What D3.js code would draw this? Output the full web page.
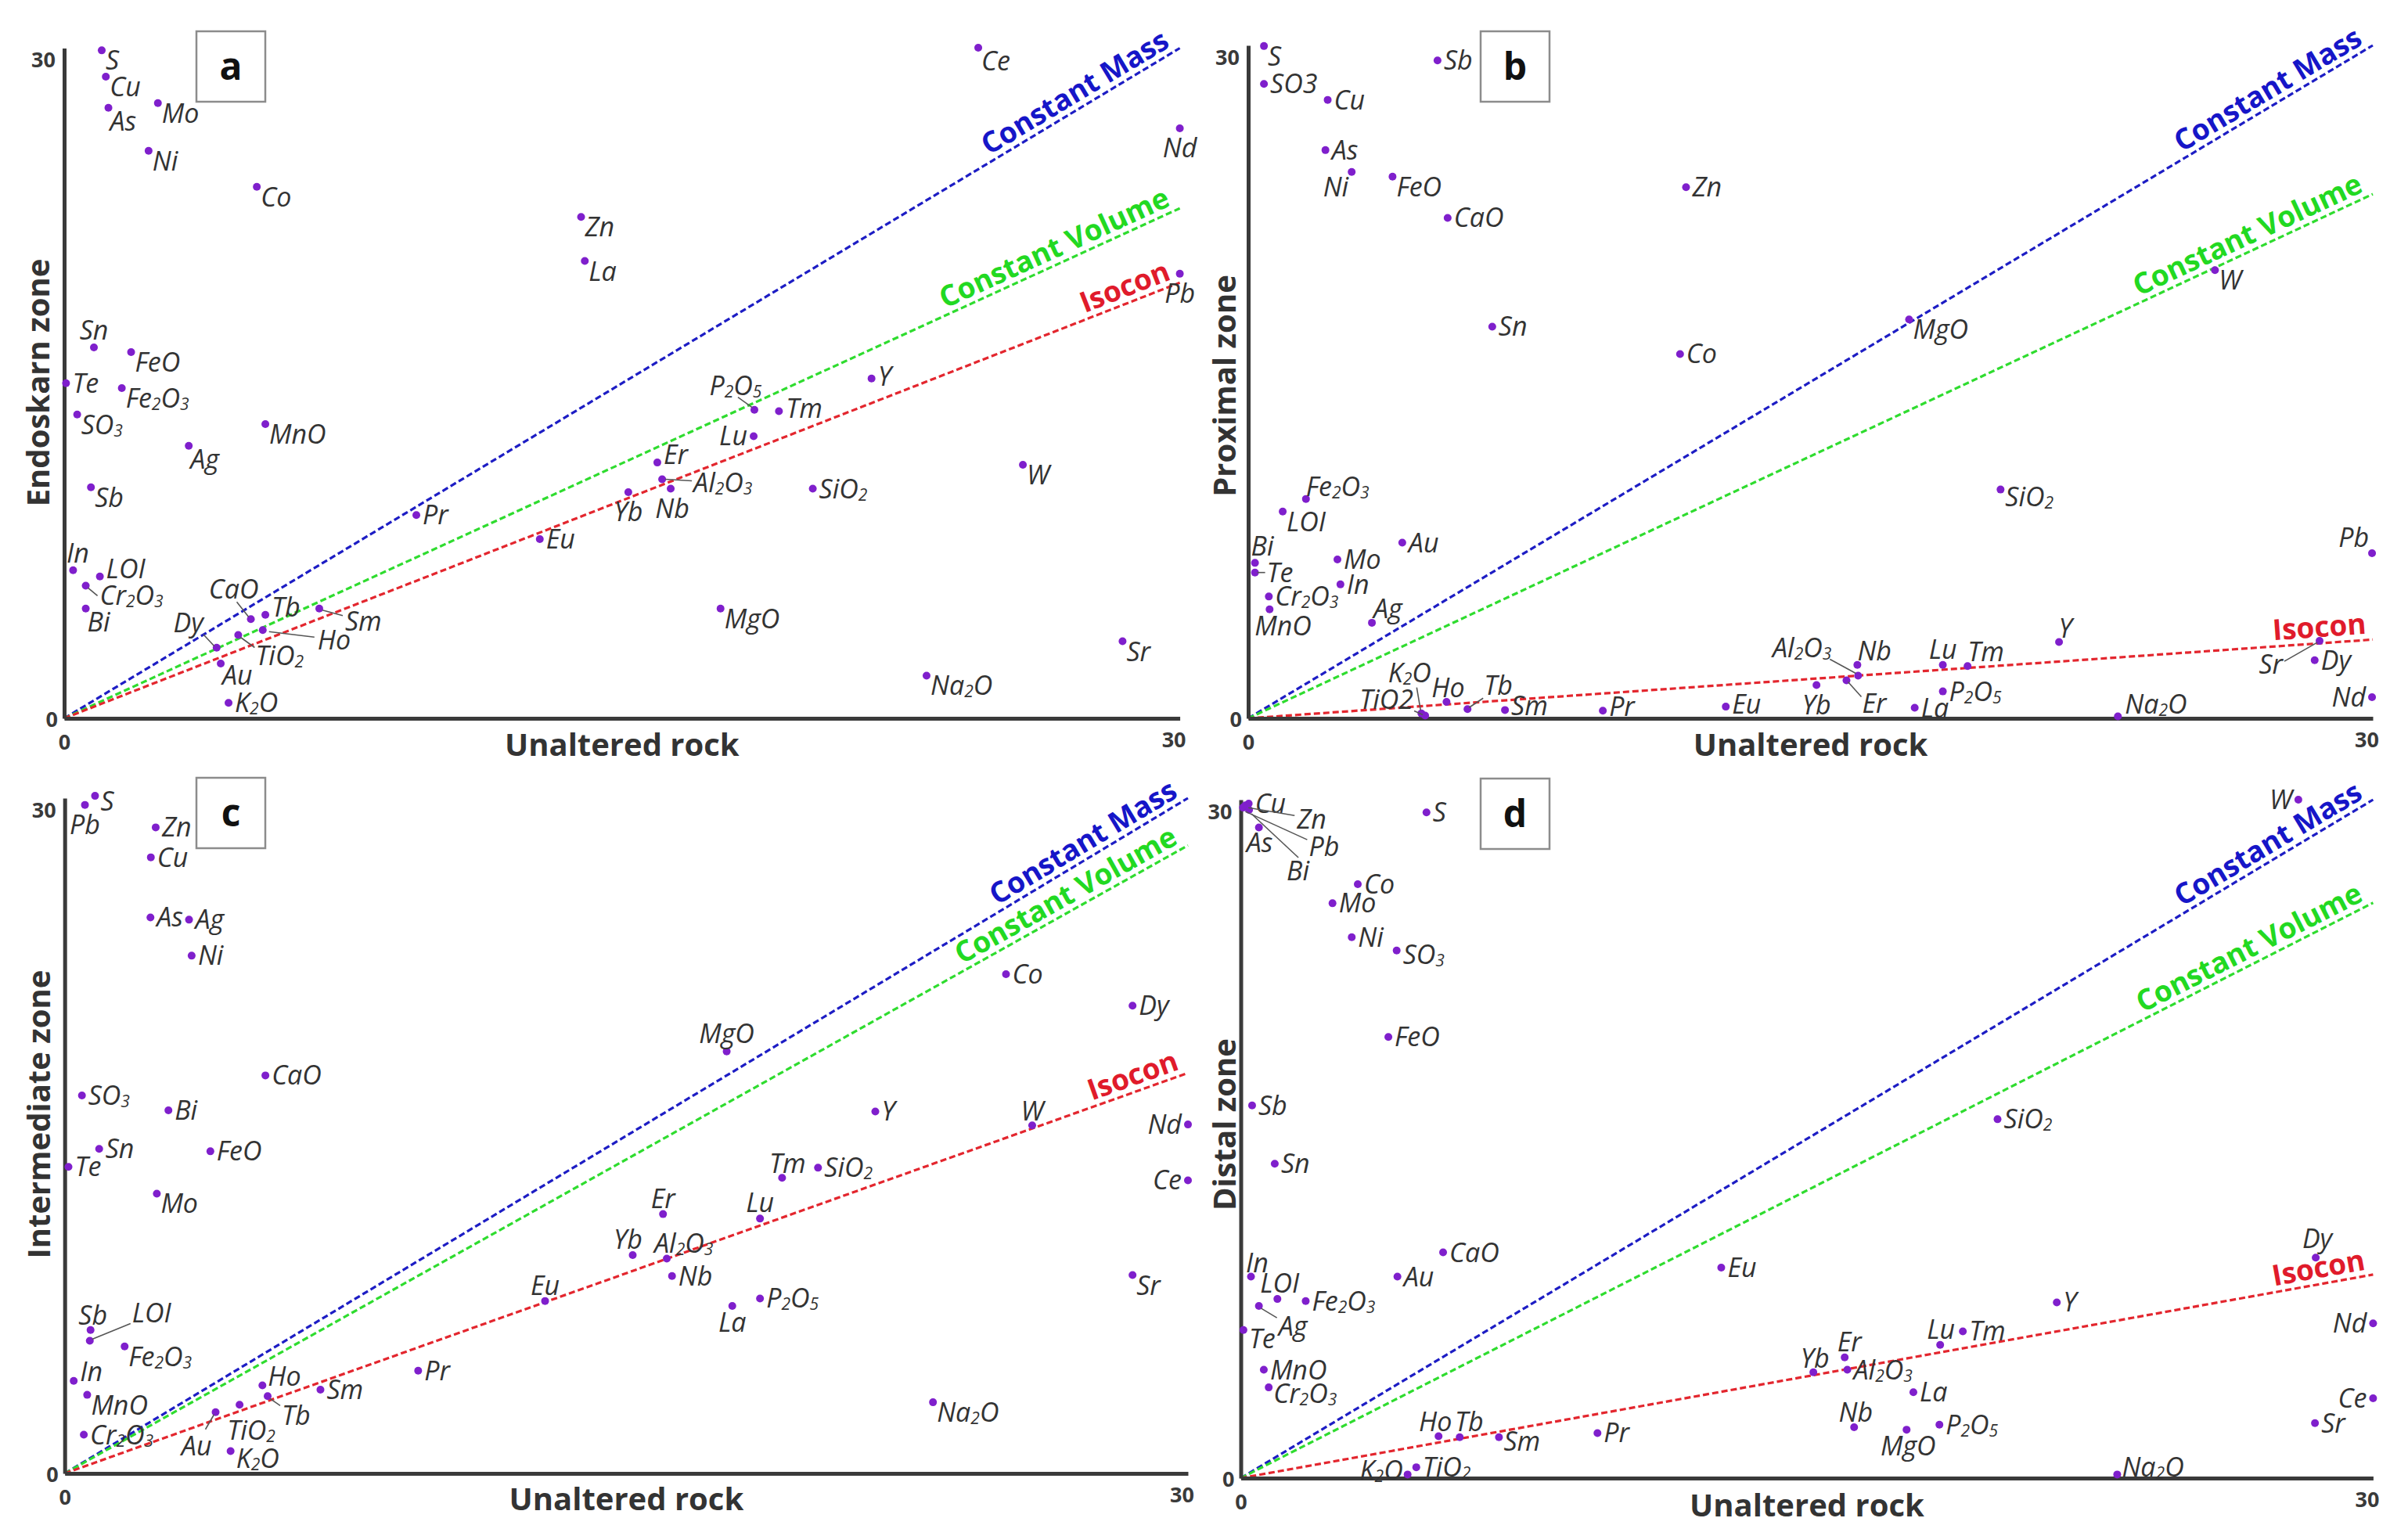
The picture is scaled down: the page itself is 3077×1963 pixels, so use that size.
<!DOCTYPE html>
<html><head><meta charset="utf-8">
<script src="https://cdn.jsdelivr.net/npm/d3@7"></script>
<style>
html,body{margin:0;padding:0;background:#fff;}
svg{display:block;}
</style></head>
<body>
<svg id="chart" width="3077" height="1963"></svg>
<script>
// ---------------- DATA ----------------
const panelIds = ["a", "b", "c", "d"];
const yTitles = ["Endoskarn zone", "Proximal zone", "Intermediate zone", "Distal zone"];
const xTitle = "Unaltered rock";
const tickValues = [0, 30];
const lineNames = ["Constant Mass", "Constant Volume", "Isocon"];
const massSlopes = [1.0, 1.0, 1.0, 1.0];
const volumeSlopes = [0.761, 0.779, 0.93, 0.848];
const isoconSlopes = [0.65, 0.117, 0.593, 0.30];

const pointsA = [
 ["S",1.01,29.9],["Cu",1.12,28.72],["As",1.19,27.33],["Mo",2.52,27.54],["Ni",2.27,25.4],["Co",5.18,23.79],
 ["Zn",13.9,22.44],["La",14.0,20.47],["Ce",24.58,30.02],["Nd",30.0,26.41],["Pb",30.0,19.9],["Sn",0.8,16.6],
 ["FeO",1.8,16.39],["Te",0.05,15.0],["Fe2O3",1.55,14.78],["SO3",0.35,13.6],["MnO",5.41,13.17],["Ag",3.35,12.2],
 ["Sb",0.72,10.34],["Pr",9.47,9.1],["Eu",12.79,8.02],["In",0.24,6.63],["LOI",0.96,6.35],["Cr2O3",0.58,5.94],
 ["Bi",0.58,4.91],["CaO",5.02,4.44],["Tb",5.41,4.63],["Sm",6.86,4.91],["Ho",5.34,3.95],["TiO2",4.68,3.73],
 ["Dy",4.1,3.16],["Au",4.21,2.45],["K2O",4.42,0.69],["Y",21.71,15.21],["P2O5",18.56,13.81],["Tm",19.22,13.75],
 ["Lu",18.54,12.63],["Er",15.95,11.45],["Al2O3",16.08,10.7],["Nb",16.31,10.28],["Yb",15.17,10.12],
 ["SiO2",20.13,10.28],["W",25.78,11.35],["MgO",17.65,4.91],["Sr",28.46,3.45],["Na2O",23.19,1.91]
];
const pointsB = [
 ["S",0.42,29.97],["SO3",0.42,28.28],["Cu",2.12,27.57],["Sb",5.05,29.33],["As",2.06,25.33],["Ni",2.76,24.36],
 ["FeO",3.85,24.15],["CaO",5.32,22.31],["Zn",11.68,23.68],["Sn",6.51,17.46],["Co",11.52,16.24],["Fe2O3",1.54,9.78],
 ["LOI",0.92,9.22],["Au",4.11,7.83],["Bi",0.18,6.93],["Te",0.18,6.5],["Mo",2.38,7.08],["In",2.46,5.97],
 ["Cr2O3",0.55,5.43],["MnO",0.57,4.86],["Ag",3.3,4.26],["K2O",4.62,0.22],["TiO2",4.72,0.12],["Ho",5.29,0.73],
 ["Tb",5.85,0.41],["Sm",6.85,0.37],["Pr",9.46,0.34],["Eu",12.74,0.52],["Yb",15.16,1.48],["Al2O3",16.27,1.9],
 ["Nb",16.25,2.38],["Er",15.96,1.69],["MgO",17.63,17.78],["W",25.79,19.98],["SiO2",20.07,10.2],["Pb",29.98,7.36],
 ["Y",21.63,3.4],["Lu",18.53,2.38],["Tm",19.19,2.33],["P2O5",18.53,1.2],["La",17.78,0.47],["Na2O",23.2,0.09],
 ["Sr",28.58,3.45],["Dy",28.45,2.59],["Nd",29.98,0.94]
];
const pointsC = [
 ["S",0.81,30.1],["Pb",0.54,29.7],["Zn",2.43,28.7],["Cu",2.3,27.37],["As",2.29,24.7],["Ag",3.32,24.6],
 ["Ni",3.39,23.0],["CaO",5.36,17.68],["SO3",0.46,16.79],["Bi",2.77,16.13],["Sn",0.92,14.42],["FeO",3.89,14.31],
 ["Te",0.1,13.62],["Mo",2.46,12.43],["Sb",0.69,6.37],["LOI",0.67,5.89],["Fe2O3",1.6,5.64],["In",0.24,4.11],
 ["MnO",0.6,3.49],["Cr2O3",0.51,1.72],["Ho",5.28,3.91],["Tb",5.42,3.43],["Sm",6.83,3.72],["TiO2",4.67,3.05],
 ["Au",4.03,2.72],["K2O",4.43,0.99],["Pr",9.44,4.56],["Eu",12.83,7.66],["MgO",17.68,18.75],["Co",25.14,22.18],
 ["Dy",28.52,20.78],["Y",21.65,16.08],["W",25.84,15.46],["Nd",30.0,15.5],["Ce",30.0,13.02],["Tm",19.16,13.13],
 ["SiO2",20.12,13.58],["Er",15.98,11.52],["Lu",18.57,11.32],["Yb",15.17,9.7],["Al2O3",16.08,9.54],
 ["Nb",16.22,8.77],["P2O5",18.57,7.77],["La",17.83,7.44],["Sr",28.52,8.81],["Na2O",23.19,3.16]
];
const pointsD = [
 ["Cu",0.21,29.83],["Zn",0.12,29.75],["Pb",0.06,29.65],["Bi",0.22,29.55],["As",0.48,28.77],["S",4.92,29.44],
 ["Co",3.1,26.26],["Mo",2.43,25.42],["Ni",2.94,23.92],["SO3",4.13,23.33],["FeO",3.91,19.51],["Sb",0.3,16.48],
 ["Sn",0.9,13.9],["CaO",5.36,9.98],["In",0.27,8.91],["Au",4.15,8.91],["LOI",0.97,7.92],["Fe2O3",1.72,7.83],
 ["Ag",0.48,7.61],["Te",0.07,6.55],["MnO",0.61,4.79],["Cr2O3",0.74,4.01],["Eu",12.73,9.31],["Ho",5.24,1.85],
 ["Tb",5.8,1.81],["Sm",6.84,1.81],["Pr",9.45,1.99],["TiO2",4.65,0.48],["K2O",4.42,0.16],["Yb",15.17,4.68],
 ["W",28.02,30.0],["SiO2",20.05,15.87],["Dy",28.48,9.75],["Y",21.62,7.77],["Lu",18.53,5.89],["Tm",19.13,6.49],
 ["Er",16.0,5.34],["Al2O3",16.07,4.79],["La",17.82,3.8],["Nb",16.25,2.25],["MgO",17.64,2.14],["P2O5",18.51,2.36],
 ["Nd",30.0,6.84],["Ce",30.0,3.53],["Sr",28.46,2.43],["Na2O",23.22,0.16]
];
const pointSets = [pointsA, pointsB, pointsC, pointsD];

// ---------------- LAYOUT / STYLE ----------------
const layout = [
 {x0:82,   x1:1507.6, y0:918,  y1:61.5, box:[251,40],   yTitle:[63,489]},
 {x0:1595, x1:3032,   y0:918,  y1:58,   box:[1892,40],  yTitle:[1579,493]},
 {x0:82.7, x1:1518,   y0:1883, y1:1020, box:[251,994],  yTitle:[64,1424]},
 {x0:1585.5,x1:3032.4,y0:1889, y1:1022, box:[1892,995], yTitle:[1579,1437]}
];
const xTitleBase = [966, 966, 1930, 1938];
const lineColors = ["#1d1dc4", "#2fdc2f", "#e3262e"];
const lineTextColors = ["#1616c8", "#22d922", "#e01b2b"];
const pointColor = "#7f1fcc";
const textColor = "#333";
const plainDigitLabels = [[], ["SO3", "TiO2"], [], []];

// label placements (pixel offsets relative to point)
const codes = {
 r:[8,12,"start"], rb:[5,25,"start"], ra:[8,2,"start"],
 a:[0,-10,"middle"], ar:[0,-8,"start"], al:[-4,-8,"end"], b:[0,37,"middle"],
 l:[-8,12,"end"], lb:[-4,31,"end"]
};
const labelsA = {
 S:"rb",Cu:"rb",As:[2,29,"start"],Mo:"rb",Ni:"rb",Co:"rb",Zn:"rb",La:"rb",Ce:[4,29,"start"],Nd:"b",Pb:"b",
 Sn:"a",FeO:"rb",Te:"r",Fe2O3:"rb",SO3:"rb",MnO:"rb",Ag:[2,29,"start"],Sb:"rb",Pr:"r",Eu:"r",In:[6,-10,"middle"],
 LOI:"ra",Cr2O3:[18,25,"start",3,3,15,13],Bi:[2,29,"start"],CaO:[-22,-26,"middle",-18,-22,-3,-3],Tb:"ra",
 Sm:[33,28,"start",4,2,30,9],Ho:[70,25,"start",8,2,66,9],TiO2:[22,38,"start",3,3,21,16],
 Dy:[-17,-20,"end",-17,-17,-3,-2],Au:[2,27,"start"],K2O:"r",Y:[8,9,"start"],
 P2O5:[-24,-19,"middle",-21,-16,-3,-3],Tm:[9,9,"start"],Lu:"l",Er:"ra",Al2O3:[40,16,"start",4,0,38,2],
 Nb:[2,37,"middle"],Yb:"b",SiO2:"r",W:"rb",MgO:"rb",Sr:"rb",Na2O:"rb"
};
const labelsB = {
 S:"rb",SO3:"r",Cu:"r",Sb:"r",As:"r",Ni:"lb",FeO:"rb",Zn:"r",CaO:"r",Sn:"r",Co:"r",Fe2O3:[0,-4,"start"],
 LOI:"rb",Au:"r",Mo:"r",In:"r",Bi:[-5,-9,"start"],Te:[15,12,"start",3,0,13,0],Cr2O3:"r",MnO:[-19,33,"start"],
 Ag:[2,-6,"start"],K2O:[-15,-40,"middle",-6,-33,-1,-4],TiO2:[-15,-9,"end",-14,-6,-3,-1],Ho:[2,-6,"middle"],
 Tb:[21,-18,"start",2,-2,20,-14],Sm:[8,7,"start"],Pr:[8,7,"start"],Eu:[8,9,"start"],Yb:"b",
 Al2O3:[-34,-24,"end",-36,-21,-3,-3],Nb:[0,-6,"start"],Er:[20,41,"start",2,2,19,21],Lu:[0,-8,"middle"],
 Tm:[0,-6,"start"],P2O5:"r",La:"r",Na2O:[9,-3,"start"],Y:[8,-6,"middle"],SiO2:[6,21,"start"],MgO:"rb",W:"rb",
 Pb:"al",Sr:[-47,42,"end",-45,26,-3,2],Dy:"r",Nd:"l"
};
const labelsC = {
 S:[7,19,"start"],Pb:"b",Zn:"r",Cu:"r",As:"r",Ag:"r",Ni:"r",CaO:"r",SO3:"r",Bi:"r",Sn:"r",FeO:"r",Te:"r",
 Mo:"rb",Sb:[3,-7,"middle"],LOI:[54,-24,"start",3,-2,52,-22],Fe2O3:"rb",In:[8,0,"start"],MnO:"rb",
 Cr2O3:"r",Ho:[7,0,"start"],Tb:[18,37,"start",3,3,16,12],Sm:"r",TiO2:[15,45,"middle"],
 Au:[-5,55,"end",-13,22,-2,3],K2O:[7,21,"start"],Pr:"r",Eu:[0,-8,"middle"],Y:"r",MgO:[0,-11,"middle"],
 Co:"r",Dy:"r",W:[0,-6,"middle"],Nd:"l",Ce:"l",Tm:[7,-6,"middle"],SiO2:"r",Er:[0,-8,"middle"],
 Lu:[0,-8,"middle"],Yb:[-6,-8,"middle"],Al2O3:[-16,-8,"start"],Nb:"r",P2O5:"r",La:[0,33,"middle"],
 Sr:"rb",Na2O:"rb"
};
const labelsD = {
 Cu:"r",Zn:[66,30,"start",4,3,63,13],Pb:[84,62,"start",3,5,82,41],Bi:[48,90,"start",3,5,63,61],
 As:[1,31,"middle"],S:"r",Co:"r",Mo:"r",Ni:"r",SO3:[8,17,"start"],FeO:"r",Sb:"r",Sn:"r",CaO:"r",Au:"r",
 Eu:"r",In:[8,-6,"middle"],LOI:[3,-8,"middle"],Fe2O3:"r",Ag:[25,38,"start",3,3,23,15],Te:[7,23,"start"],
 MnO:"r",Cr2O3:[6,20,"start"],Ho:[-4,-7,"middle"],Tb:[12,-8,"middle"],Sm:[6,17,"start"],Pr:"r",TiO2:"r",
 K2O:[-6,7,"end"],Yb:[2,-6,"middle"],Er:[6,-8,"middle"],Al2O3:"r",Lu:[1,-8,"middle"],Tm:"r",Y:"r",SiO2:"r",
 La:"r",Nb:[2,-7,"middle"],MgO:[2,33,"middle"],P2O5:"r",Na2O:[6,3,"start"],W:"l",Dy:[2,-12,"middle"],
 Nd:"l",Ce:"l",Sr:"r"
};
const labelSets = [labelsA, labelsB, labelsC, labelsD];

const FONT = "'Open Sans', 'DejaVu Sans', sans-serif";
const svg = d3.select("#chart");
svg.append("rect").attr("width",3077).attr("height",1963).attr("fill","#fff");

function addLabel(g, name, px, py, spec, plain) {
  let s = spec === undefined ? codes.r : (typeof spec === "string" ? codes[spec] : spec);
  const [dx, dy, anchor, lx1, ly1, lx2, ly2] = s;
  if (lx1 !== undefined) {
    g.append("line").attr("x1", px+lx1).attr("y1", py+ly1).attr("x2", px+lx2).attr("y2", py+ly2)
      .attr("stroke", "#555").attr("stroke-width", 1.6);
  }
  const t = g.append("text").attr("x", px+dx).attr("y", py+dy).attr("text-anchor", anchor)
    .attr("font-family", FONT).attr("font-style", "italic").attr("font-size", 34).attr("fill", textColor);
  if (plain) { t.text(name); return; }
  const segs = name.match(/[A-Za-z]+|\d+/g);
  let shifted = false;
  segs.forEach(seg => {
    const ts = t.append("tspan").text(seg);
    if (/\d/.test(seg)) { ts.attr("font-size", 21).attr("dy", 3); shifted = true; }
    else if (shifted) { ts.attr("dy", -3); shifted = false; }
  });
}

panelIds.forEach((pid, i) => {
  const L = layout[i];
  const x = d3.scaleLinear().domain([0,30]).range([L.x0, L.x1]);
  const y = d3.scaleLinear().domain([0,30]).range([L.y0, L.y1]);
  const g = svg.append("g").attr("class", "panel-" + pid);

  // reference lines
  const slopes = [massSlopes[i], volumeSlopes[i], isoconSlopes[i]];
  const lineGen = d3.line().x(d => x(d[0])).y(d => y(d[1]));
  slopes.forEach((k, j) => {
    g.append("path").datum([[0,0],[30,30*k]]).attr("d", lineGen)
      .attr("fill","none").attr("stroke", lineColors[j]).attr("stroke-width", 3.2)
      .attr("stroke-dasharray", "8,4");
  });

  // axes
  const xAxis = d3.axisBottom(x).tickValues(tickValues).tickSize(0).tickSizeOuter(0).tickFormat(d3.format("d"));
  const yAxis = d3.axisLeft(y).tickValues(tickValues).tickSize(0).tickSizeOuter(0).tickFormat(d3.format("d"));
  const gx = g.append("g").attr("transform", `translate(0,${L.y0})`).call(xAxis);
  const gy = g.append("g").attr("transform", `translate(${L.x0},0)`).call(yAxis);
  [gx, gy].forEach(ax => {
    ax.select(".domain").attr("stroke", "#3a3a3a").attr("stroke-width", 5);
    ax.selectAll("text").attr("font-family", FONT).attr("font-weight", 700)
      .attr("font-size", 27).attr("fill", "#3a3a3a");
  });
  gx.selectAll(".tick text").attr("y", 0).attr("dy", 0)
    .attr("transform", d => d === 0 ? "translate(0,40)" : "translate(-8,37)")
    .attr("text-anchor", "middle");
  gy.selectAll(".tick text").attr("x", 0).attr("dy", 0)
    .attr("transform", d => d === 0 ? "translate(-8,10)" : "translate(-11,24)")
    .attr("text-anchor", "end");

  // line labels
  slopes.forEach((k, j) => {
    const xe = 29.85;
    const angk = Math.atan2(y(30*k) - y(0), x(30) - x(0)) * 180 / Math.PI;
    g.append("text")
      .attr("transform", `translate(${x(xe)},${y(xe*k)}) rotate(${angk})`)
      .attr("x", 0).attr("y", -8).attr("text-anchor", "end")
      .attr("font-family", FONT).attr("font-weight", 700).attr("font-size", 37)
      .attr("fill", lineTextColors[j]).text(lineNames[j]);
  });

  // points + labels
  const pts = pointSets[i];
  const labs = labelSets[i];
  g.selectAll("circle.pt").data(pts).join("circle").attr("class","pt")
    .attr("cx", d => x(d[1])).attr("cy", d => y(d[2])).attr("r", 5).attr("fill", pointColor);
  pts.forEach(d => addLabel(g, d[0], x(d[1]), y(d[2]), labs[d[0]], plainDigitLabels[i].includes(d[0])));

  // axis titles
  g.append("text").attr("x", (L.x0 + L.x1) / 2).attr("y", xTitleBase[i]).attr("text-anchor","middle")
    .attr("font-family", FONT).attr("font-weight", 700).attr("font-size", 40).attr("fill", "#333").text(xTitle);
  g.append("text").attr("transform", `translate(${L.yTitle[0]},${L.yTitle[1]}) rotate(-90)`)
    .attr("text-anchor","middle").attr("font-family", FONT).attr("font-weight", 700)
    .attr("font-size", 40).attr("fill", "#333").text(yTitles[i]);

  // panel letter box
  g.append("rect").attr("x", L.box[0]).attr("y", L.box[1]).attr("width", 88).attr("height", 90)
    .attr("fill","#fff").attr("stroke","#8c8c8c").attr("stroke-width", 2.5);
  g.append("text").attr("x", L.box[0] + 44).attr("y", L.box[1] + 62).attr("text-anchor","middle")
    .attr("font-family", FONT).attr("font-weight", 700).attr("font-size", 48).attr("fill","#111").text(pid);
});
</script>
</body></html>
